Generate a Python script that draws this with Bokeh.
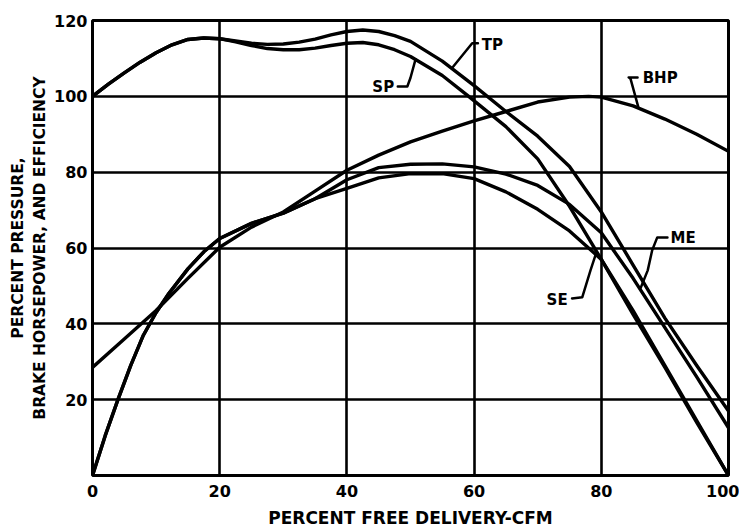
from bokeh.plotting import figure
from bokeh.models import Range1d, Label, FixedTicker
from bokeh.embed import file_html
from bokeh.resources import INLINE

# ---------------- data ----------------
x_tp = [0, 2.5, 5, 7.5, 10, 12.5, 15, 17.5, 20, 22.5, 25, 27.5, 30, 32.5, 35, 37.5, 40, 42.5, 45, 47.5, 50,
        55, 60, 65, 70, 75, 80, 85, 90, 95, 100]
tp = [100, 103.2, 106.2, 109, 111.5, 113.6, 115, 115.4, 115.2, 114.6, 114, 113.7, 113.8, 114.3, 115.1, 116.2, 117.1, 117.5, 117.1, 116, 114.5,
      109.3, 102.8, 96, 89.5, 81.5, 69.5, 55.5, 41.5, 29, 17]

x_sp = [0, 2.5, 5, 7.5, 10, 12.5, 15, 17.5, 20, 22.5, 25, 27.5, 30, 32.5, 35, 37.5, 40, 42.5, 45, 47.5, 50,
        55, 59, 65, 70, 75, 80, 85, 90, 95, 100]
sp = [100, 103.2, 106.2, 109, 111.5, 113.6, 115, 115.4, 115.2, 114.4, 113.4, 112.6, 112.3, 112.3, 112.7, 113.4, 114, 114.2, 113.6, 112.3, 110.5,
      105.5, 100.2, 92, 83.5, 71, 57, 42.5, 28.5, 14, 0]

x_bhp = [0, 5, 10, 15, 20, 25, 30, 35, 40, 45, 50, 55, 60, 65, 70, 75, 78, 80, 85, 90, 95, 100]
bhp = [28.5, 36, 43.5, 52, 60.2, 65.5, 69.5, 75, 80.5, 84.5, 88, 90.8, 93.5, 96, 98.5, 99.8, 100, 99.8, 97.5, 94, 90, 85.5]

x_me = [0, 2, 4, 6, 8, 10, 12, 15, 17.5, 20, 25, 30, 35, 40, 45, 50, 55, 60, 65, 70, 75, 80, 85, 90, 95, 100]
me = [0, 10.5, 20, 29, 37, 43, 48, 54.5, 59, 62.5, 66.5, 69.2, 73, 78, 81.2, 82.1, 82.2, 81.4, 79.5, 76.5, 71.5, 64, 52, 39, 26, 12.6]

x_se = [0, 2, 4, 6, 8, 10, 12, 15, 17.5, 20, 25, 30, 35, 40, 45, 50, 55, 60, 65, 70, 75, 80, 85, 90, 95, 100]
se = [0, 10.5, 20, 29, 37, 43, 48, 54.5, 59, 62.5, 66.5, 69.2, 73, 75.7, 78.5, 79.6, 79.6, 78.3, 74.8, 70.2, 64.5, 57, 43.5, 29, 14.5, 0]

x_ticks = [0, 20, 40, 60, 80, 100]
y_ticks = [20, 40, 60, 80, 100, 120]

x_title = "PERCENT FREE DELIVERY-CFM"
y_title = "PERCENT PRESSURE,\nBRAKE HORSEPOWER, AND EFFICIENCY"

# curve labels and their leader lines
curve_labels = ["TP", "SP", "BHP", "ME", "SE"]
label_x = [61.2, 44.0, 86.5, 90.9, 71.4]
label_y = [113.5, 102.4, 104.8, 62.6, 46.3]
leader_x = [[60.6, 59.7, 56.6], [48.0, 49.5, 50.0, 50.8],
            [85.7, 84.3, 84.6, 85.8], [90.4, 88.8, 88.0, 87.3, 86.2],
            [75.4, 77.0, 78.3, 79.1]]
leader_y = [[114.0, 114.0, 107.6], [102.6, 102.6, 104.9, 109.8],
            [105.0, 105.0, 104.6, 97.3], [62.8, 62.8, 59.4, 54.1, 49.5],
            [46.7, 47.0, 54.1, 58.2]]

# ---------------- figure ----------------
FONT = "DejaVu Sans"
p = figure(width=739, height=530, output_backend="svg", toolbar_location=None,
           x_range=Range1d(0, 100), y_range=Range1d(0, 120),
           min_border_left=92, min_border_right=11, min_border_top=20, min_border_bottom=55)
p.background_fill_color = "white"
p.border_fill_color = "white"
p.outline_line_color = "black"
p.outline_line_width = 3

p.xaxis.ticker = FixedTicker(ticks=x_ticks)
p.yaxis.ticker = FixedTicker(ticks=y_ticks)
for ax in (p.xaxis, p.yaxis):
    ax.axis_line_color = None
    ax.major_tick_line_color = None
    ax.minor_tick_line_color = None
    ax.major_tick_out = 0
    ax.major_tick_in = 0
    ax.major_label_text_font = FONT
    ax.major_label_text_font_style = "bold"
    ax.major_label_text_font_size = "16px"
    ax.major_label_text_color = "black"
    ax.axis_label_text_font = FONT
    ax.axis_label_text_font_style = "bold"
    ax.axis_label_text_color = "black"
p.xaxis.major_label_standoff = 9
p.yaxis.major_label_standoff = 5
p.xaxis.axis_label = x_title
p.xaxis.axis_label_text_font_size = "17px"
p.xaxis.axis_label_standoff = 8
p.yaxis.axis_label = y_title
p.yaxis.axis_label_text_font_size = "15.5px"
p.yaxis.axis_label_standoff = 2

for g in (p.xgrid, p.ygrid):
    g.grid_line_color = "black"
    g.grid_line_width = 2.6
    g.grid_line_alpha = 1.0

LW = 3.4
for xs, ys in ((x_tp, tp), (x_sp, sp), (x_bhp, bhp), (x_me, me), (x_se, se)):
    p.line(xs, ys, line_color="black", line_width=LW, line_join="round", line_cap="round")

for xs, ys in zip(leader_x, leader_y):
    p.line(xs, ys, line_color="black", line_width=2.5, line_join="round", line_cap="round")

for t, lx, ly in zip(curve_labels, label_x, label_y):
    p.add_layout(Label(x=lx, y=ly, text=t, text_font=FONT, text_font_style="bold",
                       text_font_size="15px", text_align="left", text_baseline="middle",
                       text_color="black"))

open("out.html", "w").write(file_html(p, INLINE))
